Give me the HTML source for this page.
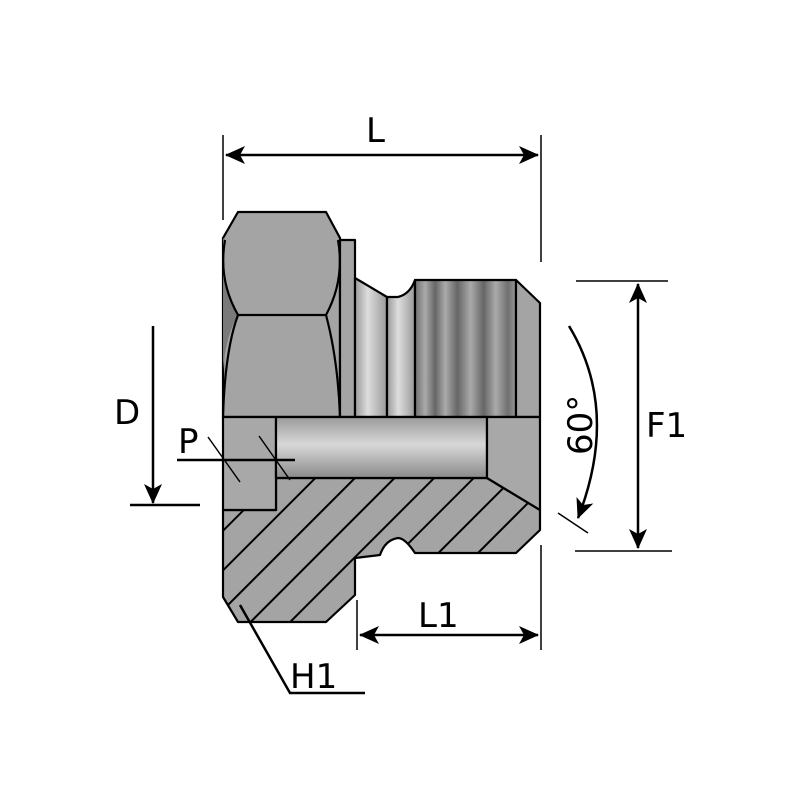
<!DOCTYPE html>
<html><head><style>html,body{margin:0;padding:0;background:#fff}svg{display:block}text{font-family:"DejaVu Sans","Liberation Sans",sans-serif;fill:#000}</style></head>
<body>
<svg width="800" height="800" viewBox="0 0 800 800" xmlns="http://www.w3.org/2000/svg">
<defs>
<linearGradient id="thr" x1="0" x2="1" y1="0" y2="0">
<stop offset="0" stop-color="#6e6e6e"/><stop offset="0.1" stop-color="#aaa"/><stop offset="0.2" stop-color="#666"/><stop offset="0.3" stop-color="#aaa"/><stop offset="0.42" stop-color="#666"/><stop offset="0.55" stop-color="#aaa"/><stop offset="0.68" stop-color="#666"/><stop offset="0.8" stop-color="#aaa"/><stop offset="0.92" stop-color="#707070"/><stop offset="1" stop-color="#999"/>
</linearGradient>
<linearGradient id="bore" x1="0" x2="0" y1="0" y2="1">
<stop offset="0" stop-color="#9a9a9a"/><stop offset="0.45" stop-color="#d8d8d8"/><stop offset="1" stop-color="#8a8a8a"/>
</linearGradient>
<linearGradient id="neck" x1="0" x2="1">
<stop offset="0" stop-color="#999"/><stop offset="0.4" stop-color="#ddd"/><stop offset="1" stop-color="#999"/>
</linearGradient>
<pattern id="hatch" patternUnits="userSpaceOnUse" width="28" height="28" patternTransform="rotate(45)">
<rect width="28" height="28" fill="#a4a4a4"/><line x1="0" y1="0" x2="0" y2="28" stroke="#000" stroke-width="4"/>
</pattern>
<marker id="ar" viewBox="0 0 20 20" refX="19" refY="10" markerWidth="20" markerHeight="20" markerUnits="userSpaceOnUse" orient="auto-start-reverse">
<path d="M0,1 L20,10 L0,19 L5,10 Z" fill="#000"/></marker>
</defs>
<g stroke="#000" stroke-width="2.2" stroke-linejoin="round">
<!-- hex -->
<path d="M223,238 L238,212 L326,212 L340,238 L340,417 L223,417 Z" fill="#a4a4a4"/>
<path d="M223,238 L223,370 Q226,335 238,315 Q218,280 225,240 Z" fill="#7a7a7a" stroke="none"/>
<path d="M225,240 Q218,280 238,315 L326,315 Q345,280 338,240" fill="none"/>
<path d="M238,315 Q225,350 223,417 M326,315 Q338,360 340,417" fill="none"/>
<!-- collar -->
<rect x="340" y="240" width="15" height="177" fill="#a4a4a4"/>
<!-- neck -->
<path d="M355,278 L387,297 L387,417 L355,417 Z" fill="url(#neck)"/>
<path d="M387,297 L398,297 Q410,294 415,280 L415,417 L387,417 Z" fill="url(#neck)"/>
<!-- thread -->
<rect x="415" y="280" width="101" height="137" fill="url(#thr)"/>
<path d="M516,280 L540,303 L540,417 L516,417 Z" fill="#a4a4a4"/>
<!-- lower hatched section -->
<path d="M223,510 L276,510 L276,478 L487,478 L540,510 L540,530 L516,553 L415,553 Q405,538 398,538 Q385,540 380,555 L355,558 L355,595 L326,622 L238,622 L223,597 Z" fill="url(#hatch)"/>
<!-- P block -->
<rect x="223" y="417" width="53" height="93" fill="#a8a8a8"/>
<!-- bore -->
<rect x="276" y="417" width="211" height="61" fill="url(#bore)"/>
<path d="M487,417 L540,417 L540,510 L487,478 Z" fill="#a8a8a8"/>
</g>
<!-- dimension lines -->
<g stroke="#000" stroke-width="1.5" fill="none">
<line x1="223" y1="135" x2="223" y2="220"/>
<line x1="541" y1="135" x2="541" y2="262"/>
<line x1="357" y1="600" x2="357" y2="650"/>
<line x1="541" y1="545" x2="541" y2="650"/>
<line x1="576" y1="281" x2="668" y2="281"/>
<line x1="575" y1="551" x2="672" y2="551"/>
<line x1="208" y1="437" x2="240" y2="482"/>
<line x1="259" y1="436" x2="290" y2="480"/>
<line x1="558" y1="513" x2="588" y2="533"/>
</g>
<g stroke="#000" stroke-width="2.5" fill="none">
<line x1="226" y1="155" x2="538" y2="155" marker-start="url(#ar)" marker-end="url(#ar)"/>
<line x1="360" y1="635" x2="538" y2="635" marker-start="url(#ar)" marker-end="url(#ar)"/>
<line x1="638" y1="284" x2="638" y2="548" marker-start="url(#ar)" marker-end="url(#ar)"/>
<line x1="153" y1="326" x2="153" y2="503" marker-end="url(#ar)"/>
<line x1="130" y1="505" x2="200" y2="505"/>
<line x1="177" y1="460" x2="295" y2="460"/>
<path d="M569,326 Q620,410 578,518" marker-end="url(#ar)"/>
<path d="M240,605 L290,693 L365,693"/>
</g>
<g font-size="34">
<text x="366" y="142">L</text>
<text x="418" y="627">L1</text>
<text x="646" y="437">F1</text>
<text x="114" y="424">D</text>
<text x="178" y="453">P</text>
<text x="290" y="688">H1</text>
<text transform="translate(592,455) rotate(-90)">60°</text>
</g>
</svg>
</body></html>
